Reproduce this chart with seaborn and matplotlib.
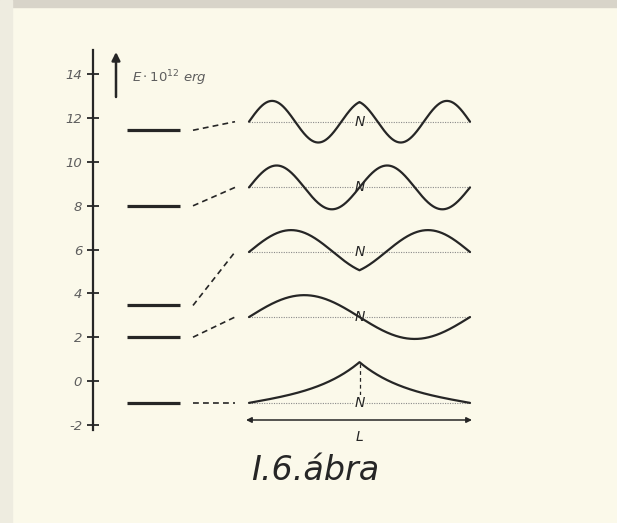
import numpy as np
import pandas as pd
import matplotlib
matplotlib.use("Agg")
import matplotlib.pyplot as plt
from matplotlib.patches import Rectangle
import seaborn as sns

# Energy levels of a particle in a box with a point well N at the centre (units of 1e-12 erg)
level_energy = [11.45, 8.0, 3.45, 2.0, -1.0]
# Height of the zero line for each wavefunction sketch
wave_baseline = [11.84, 8.84, 5.89, 2.92, -1.0]
# Drawn amplitude of each sketch (energy units)
wave_amplitude = [0.95, 1.0, 1.0, 1.0, 1.86]
# Parity of each state about N
wave_parity = ["even", "odd", "even", "odd", "even"]
tick_values = [-2, 0, 2, 4, 6, 8, 10, 12, 14]
tick_labels = ["-2", "0", "2", "4", "6", "8", "10", "12", "14"]

PAPER = "#fbf9ea"
INK = "#262626"
GREY = "#5e5e5e"

sns.set_theme(style="white")
plt.rcParams["font.family"] = ["DejaVu Sans"]
plt.rcParams["axes.unicode_minus"] = False

# page geometry (x in page units, y in energy units)
PX_PER_E = 21.9
ZERO_ROW = 381.0
H, W = 523, 617
AXIS_X = 92.5
BAR_X0, BAR_X1 = 127, 180
LINK_X0, LINK_X1 = 193, 235
WAVE_MID, WAVE_HALF = 359.5, 110.5


def row_to_e(row):
    return (ZERO_ROW - row) / PX_PER_E


def wavefunction(s, energy, parity):
    """Box of half-width 1 with a point well at s=0; E = k^2 / (pi^2 / 2)."""
    if energy < 0:
        kappa = np.pi / 2 * np.sqrt(-2 * energy)
        psi = np.sinh(kappa * (1 - np.abs(s)))
    else:
        k = np.pi / 2 * np.sqrt(2 * energy)
        if parity == "odd":
            psi = np.sin(k * (s + 1))
        else:
            psi = np.sin(k * (1 - np.abs(s)))
    return psi / np.max(np.abs(psi))


s = np.unique(np.concatenate([np.linspace(-1, 1, 801), [0.0]]))
frames = []
for i, (e, base, amp, par) in enumerate(zip(level_energy, wave_baseline,
                                            wave_amplitude, wave_parity)):
    frames.append(pd.DataFrame({
        "x": WAVE_MID + WAVE_HALF * s,
        "y": base + amp * wavefunction(s, e, par),
        "state": i,
    }))
waves = pd.concat(frames, ignore_index=True)

fig = plt.figure(figsize=(W / 100, H / 100), dpi=100, facecolor=PAPER)
ax = fig.add_axes([0, 0, 1, 1])
ax.set_facecolor(PAPER)
ax.set_xlim(0, W)
ax.set_ylim(row_to_e(H), row_to_e(0))

# scanned page edges
fig.patches.append(Rectangle((0, 1 - 7 / H), 1, 7 / H, transform=fig.transFigure,
                             color="#d8d4c9", zorder=0))
fig.patches.append(Rectangle((0, 0), 12 / W, 1, transform=fig.transFigure,
                             color="#eeece0", zorder=0))

# energy axis
for side in ["top", "right", "bottom"]:
    ax.spines[side].set_visible(False)
ax.spines["left"].set_position(("data", AXIS_X))
ax.spines["left"].set_bounds(row_to_e(430), row_to_e(50))
ax.spines["left"].set_color(INK)
ax.spines["left"].set_linewidth(1.6)
ax.set_xticks([])
ax.set_yticks(tick_values)
ax.set_yticklabels(tick_labels)
ax.tick_params(axis="y", direction="inout", length=9, width=1.3, color=INK,
               pad=3, labelsize=9.5, labelcolor=GREY, left=True)
for lbl in ax.get_yticklabels():
    lbl.set_fontstyle("italic")

ax.annotate("", xy=(116, row_to_e(52)), xytext=(116, row_to_e(97)),
            arrowprops=dict(arrowstyle="-|>", lw=1.8, color=INK,
                            mutation_scale=12, shrinkA=0, shrinkB=0))
ax.text(132, row_to_e(78), r"$E\cdot 10^{12}\ erg$", fontsize=9.5,
        color=GREY, va="center", ha="left")

# level bars and dashed links to the sketches
ax.hlines(level_energy, BAR_X0, BAR_X1, color=INK, lw=2.3)
for e, base in zip(level_energy, wave_baseline):
    ax.plot([LINK_X0, LINK_X1], [e, base], color=INK, lw=1.2,
            linestyle=(0, (3.5, 2.5)))

# zero lines and N markers
x0, x1 = WAVE_MID - WAVE_HALF, WAVE_MID + WAVE_HALF
for base in wave_baseline:
    ax.plot([x0, x1], [base, base], color="#8a8a8a", lw=0.8,
            linestyle=(0, (1, 1.2)), zorder=1)
    ax.text(WAVE_MID, base, "N", fontsize=10, fontstyle="italic", color=INK,
            ha="center", va="center", zorder=2,
            bbox=dict(boxstyle="square,pad=0.05", fc=PAPER, ec="none"))

ground_top = wave_baseline[-1] + wave_amplitude[-1]
ax.plot([WAVE_MID, WAVE_MID], [wave_baseline[-1] + 0.35, ground_top],
        color=INK, lw=0.9, linestyle=(0, (3, 2.5)), zorder=1)

sns.lineplot(data=waves, x="x", y="y", units="state", estimator=None,
             sort=False, color=INK, lw=1.6, ax=ax, zorder=3)
ax.set_xlabel("")
ax.set_ylabel("")

# box length L
ax.annotate("", xy=(x0 - 3, row_to_e(420)), xytext=(x1 + 2, row_to_e(420)),
            arrowprops=dict(arrowstyle="<|-|>", lw=1.1, color=INK,
                            mutation_scale=8, shrinkA=0, shrinkB=0))
ax.text(WAVE_MID, row_to_e(437), "L", fontsize=10, fontstyle="italic",
        color=INK, ha="center", va="center")

ax.text(315, row_to_e(470), "I.6.ábra", fontsize=24, fontstyle="italic",
        color=INK, ha="center", va="center")

fig.savefig("out.png", dpi=100, facecolor=PAPER)
